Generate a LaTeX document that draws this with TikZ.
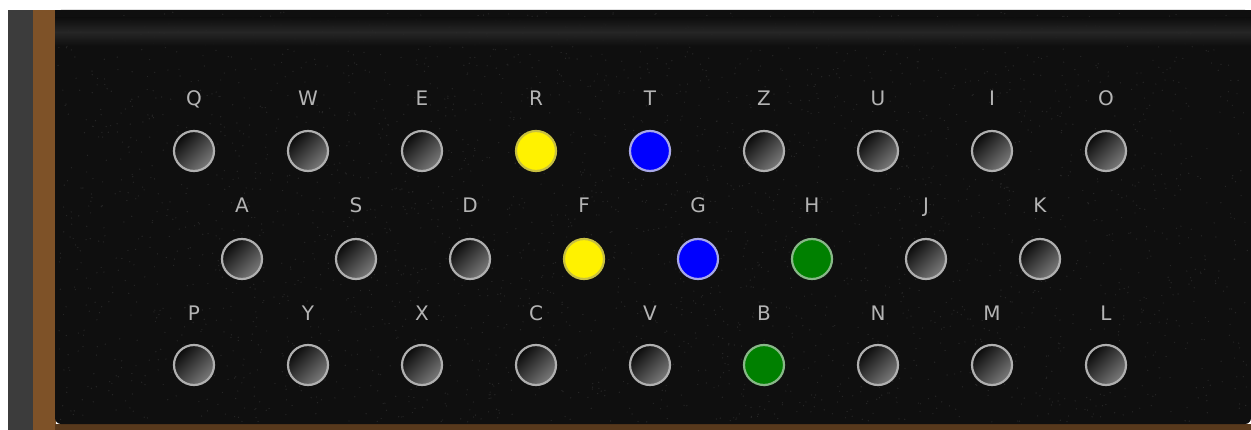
\documentclass[tikz,border=0pt]{standalone}
\usepackage{fontspec}
\setmainfont{DejaVu Sans}
\begin{document}
\begin{tikzpicture}[x=1pt,y=-1pt,
  socket/.style={circle,minimum size=40pt,inner sep=0pt,line width=2.2pt,draw=sockring,
    top color=black!96,bottom color=black!52,shading angle=45},
  yellowsock/.style={circle,minimum size=40pt,inner sep=0pt,line width=2.2pt,draw=yellowring,fill=yellow},
  bluesock/.style={circle,minimum size=40pt,inner sep=0pt,line width=2.2pt,draw=bluering,fill=blue},
  greensock/.style={circle,minimum size=40pt,inner sep=0pt,line width=2.2pt,draw=greenring,fill=greenfill},
  keylabel/.style={text=labelgrey,font=\fontsize{20}{20}\selectfont,inner sep=0pt,anchor=base}]
\definecolor{sockring}{HTML}{B0B0B0}
\definecolor{yellowring}{HTML}{C8C040}
\definecolor{bluering}{HTML}{A8A8E8}
\definecolor{greenring}{HTML}{88B888}
\definecolor{greenfill}{HTML}{008000}
\definecolor{labelgrey}{HTML}{B4B4B4}
\definecolor{panel}{HTML}{0F0F0F}
\definecolor{grain}{HTML}{262626}
\definecolor{leftstrip}{HTML}{3C3C3C}
\definecolor{wood}{HTML}{7E5228}
\useasboundingbox (0,0) rectangle (1251,430);
\fill[white] (0,0) rectangle (1251,430);
\fill[leftstrip] (8,10) rectangle (34,430);
\fill[wood] (33,10) rectangle (56,430);
\fill[wood!70!black] (55,424) rectangle (1251,430);
\fill[panel,rounded corners=6pt] (55,10) -- (55,424) -- (1251,424) -- (1251,10) -- cycle;
\fill[panel] (55,10) rectangle (1251,30);
\pgfmathsetseed{7}
\foreach \k in {1,...,3000}{
  \pgfmathsetmacro{\px}{58+rnd*1190}
  \pgfmathsetmacro{\py}{12+rnd*410}
  \fill[grain] (\px,\py) circle (0.7pt);
}
\shade[top color=panel,bottom color=panel,middle color=black!84,opacity=0.9] (55,18) rectangle (1251,46);
% row 1
\foreach \l/\i/\st in {Q/0/socket,W/1/socket,E/2/socket,R/3/yellowsock,T/4/bluesock,Z/5/socket,U/6/socket,I/7/socket,O/8/socket}{
  \node[\st] (s\l) at (194+114*\i,151) {};
  \node[keylabel] (l\l) at (194+114*\i,106) {\l};
}
% row 2
\foreach \l/\i/\st in {A/0/socket,S/1/socket,D/2/socket,F/3/yellowsock,G/4/bluesock,H/5/greensock,J/6/socket,K/7/socket}{
  \node[\st] (s\l) at (242+114*\i,259) {};
  \node[keylabel] (l\l) at (242+114*\i,213) {\l};
}
% row 3
\foreach \l/\i/\st in {P/0/socket,Y/1/socket,X/2/socket,C/3/socket,V/4/socket,B/5/greensock,N/6/socket,M/7/socket,L/8/socket}{
  \node[\st] (s\l) at (194+114*\i,365) {};
  \node[keylabel] (l\l) at (194+114*\i,321) {\l};
}
\end{tikzpicture}
\end{document}
